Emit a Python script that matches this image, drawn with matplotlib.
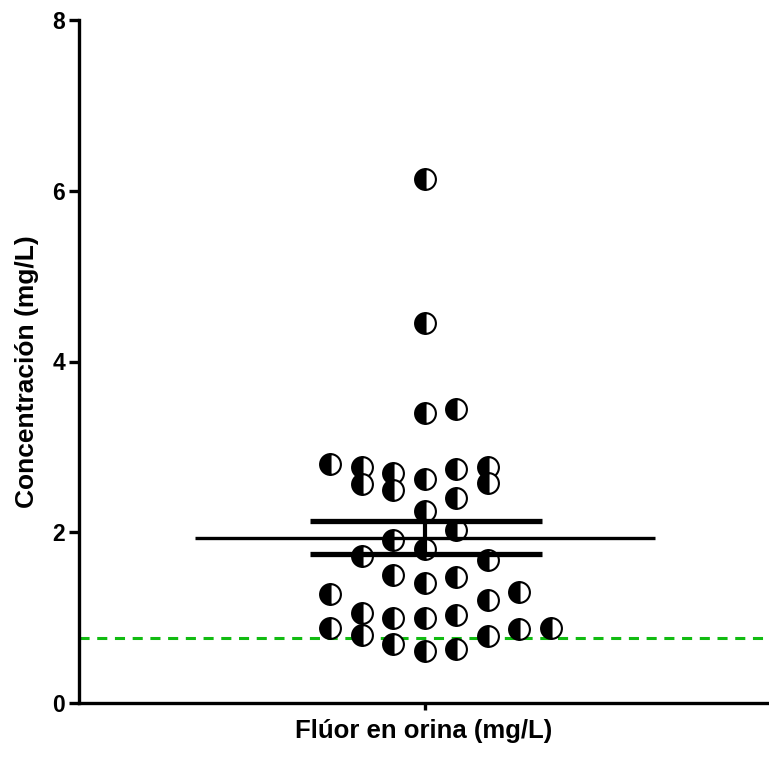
import numpy as np
import matplotlib
matplotlib.use("Agg")
import matplotlib.pyplot as plt

plt.rcParams['font.family'] = ['Liberation Sans', 'DejaVu Sans']

# Urinary fluoride values (mg/L) and their swarm column slot
values = [6.14, 4.45, 3.40, 3.44,
          2.80, 2.77, 2.69, 2.62, 2.74, 2.77,
          2.57, 2.49, 2.40, 2.58,
          2.25, 2.03, 1.91, 1.80, 1.72, 1.67,
          1.50, 1.48, 1.40,
          1.28, 1.30, 1.21,
          1.06, 1.00, 1.00, 1.03,
          0.88, 0.80, 0.87, 0.88, 0.79,
          0.69, 0.61, 0.63]
slots = [0, 0, 0, 1,
         -3, -2, -1, 0, 1, 2,
         -2, -1, 1, 2,
         0, 1, -1, 0, -2, 2,
         -1, 1, 0,
         -3, 3, 2,
         -2, -1, 0, 1,
         -3, -2, 3, 4, 2,
         -1, 0, 1]
reference_level = 0.76
yticks = [0, 2, 4, 6, 8]
xlabel = "Flúor en orina (mg/L)"
ylabel = "Concentración (mg/L)"

vals = np.array(values)
mean = vals.mean()
sem = vals.std(ddof=1) / np.sqrt(len(vals))

fig = plt.figure(figsize=(7.69, 7.61), dpi=100)
ax = fig.add_axes([79/769, 58/761, 690/769, 683/761])

ax.set_xlim(-10.98, 10.92)
ax.set_ylim(0, 8)

# reference line
ax.axhline(reference_level, color='#11bb11', lw=2.2, ls=(0, (3.3, 2.5)), zorder=1)

# points
ax.plot(slots, values, ls='none', marker='o', ms=15, fillstyle='left',
        markerfacecolor='black', markerfacecoloralt='white',
        markeredgecolor='black', markeredgewidth=1.5, zorder=3)

# mean and SEM
ax.plot([-7.3, 7.3], [mean, mean], color='black', lw=2.4, zorder=4, solid_capstyle='butt')
ax.plot([-3.65, 3.7], [mean + sem, mean + sem], color='black', lw=3.8, zorder=4, solid_capstyle='butt')
ax.plot([-3.65, 3.7], [mean - sem, mean - sem], color='black', lw=3.8, zorder=4, solid_capstyle='butt')
ax.plot([0, 0], [mean - sem, mean + sem], color='black', lw=3.0, zorder=4)

for s in ['top', 'right']:
    ax.spines[s].set_visible(False)
for s in ['left', 'bottom']:
    ax.spines[s].set_linewidth(2.4)

ax.set_yticks(yticks)
ax.set_yticklabels([str(t) for t in yticks], fontsize=16.5, fontweight='bold')
ax.tick_params(axis='y', length=7, width=2.4, pad=3)
ax.set_xticks([0])
ax.set_xticklabels([''])
ax.tick_params(axis='x', length=5, width=2.4)

ax.set_xlabel(xlabel, fontsize=18.5, fontweight='bold', labelpad=3)
ax.set_ylabel(ylabel, fontsize=19, fontweight='bold', va='center')
ax.yaxis.set_label_coords(-0.0754, 0.485)

fig.savefig("out.png", dpi=100)
